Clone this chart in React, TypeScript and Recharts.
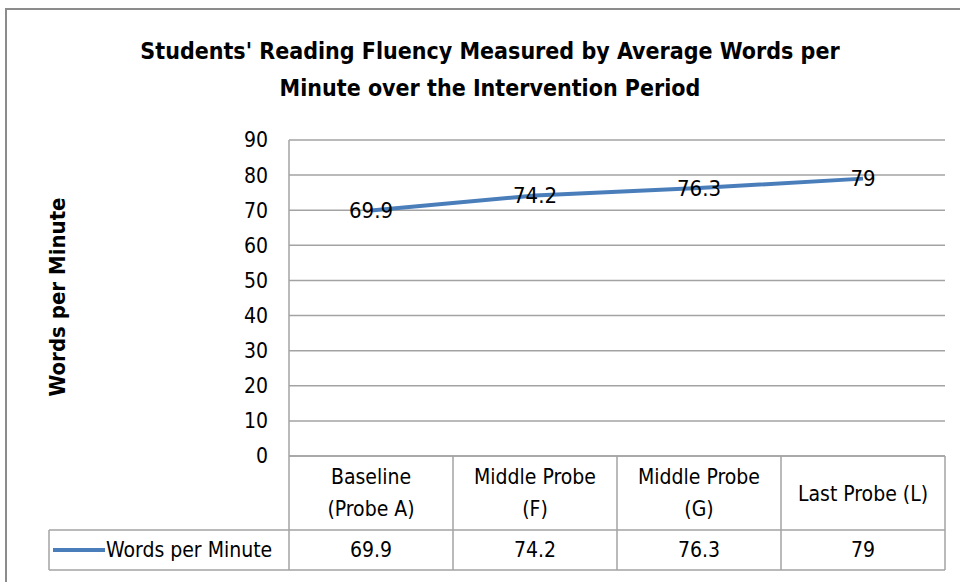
import { LineChart, Line, XAxis, YAxis, CartesianGrid, LabelList } from "recharts";

const categories = ["Baseline\n(Probe A)", "Middle Probe\n(F)", "Middle Probe\n(G)", "Last Probe (L)"];
const wordsPerMinute = [69.9, 74.2, 76.3, 79];
const yTicks = [0, 10, 20, 30, 40, 50, 60, 70, 80, 90];

const seriesName = "Words per Minute";
const data = categories.map((c, i) => ({ cat: c, wpm: wordsPerMinute[i] }));

const FONT = "'DejaVu Sans Condensed', 'Liberation Sans Narrow', Arial, sans-serif";
const GRID = "#a3a3a3";
const BLUE = "#4a7ebb";
const FS = 21;

// half of a category cell, matches the XAxis padding
const HALF = 82;
const ROW1_BOTTOM = 530;
const ROW2_BOTTOM = 570;
const LEGEND_LEFT = 49;
const PLOT_BOTTOM = 456;

function TableTick(props: any) {
    const { x, payload, index } = props;
    const lines = String(payload.value).split("\n");
    const top = PLOT_BOTTOM;
    const left = x - HALF;
    const right = x + HALF;
    return (
        <g>
            <line x1={right} y1={top} x2={right} y2={ROW2_BOTTOM} stroke={GRID} strokeWidth={1.5} />
            {index === 0 && (
                <>
                    <line x1={left} y1={top} x2={left} y2={ROW2_BOTTOM} stroke={GRID} strokeWidth={1.5} />
                    <line x1={LEGEND_LEFT} y1={ROW1_BOTTOM} x2={left} y2={ROW1_BOTTOM} stroke={GRID} strokeWidth={1.5} />
                    <line x1={LEGEND_LEFT} y1={ROW2_BOTTOM} x2={left} y2={ROW2_BOTTOM} stroke={GRID} strokeWidth={1.5} />
                    <line x1={LEGEND_LEFT} y1={ROW1_BOTTOM} x2={LEGEND_LEFT} y2={ROW2_BOTTOM} stroke={GRID} strokeWidth={1.5} />
                    <line x1={LEGEND_LEFT + 4} y1={550} x2={LEGEND_LEFT + 56} y2={550} stroke={BLUE} strokeWidth={4} />
                    <text x={LEGEND_LEFT + 57} y={550} dy="0.35em" fontSize={FS} fontFamily={FONT} fill="#000">
                        {seriesName}
                    </text>
                </>
            )}
            <line x1={left} y1={ROW1_BOTTOM} x2={right} y2={ROW1_BOTTOM} stroke={GRID} strokeWidth={1.5} />
            <line x1={left} y1={ROW2_BOTTOM} x2={right} y2={ROW2_BOTTOM} stroke={GRID} strokeWidth={1.5} />
            {lines.length === 1 ? (
                <text x={x} y={494} dy="0.35em" textAnchor="middle" fontSize={FS} fontFamily={FONT} fill="#000">
                    {lines[0]}
                </text>
            ) : (
                lines.map((l, i) => (
                    <text key={i} x={x} y={477 + i * 32} dy="0.35em" textAnchor="middle" fontSize={FS} fontFamily={FONT} fill="#000">
                        {l}
                    </text>
                ))
            )}
            <text x={x} y={550} dy="0.35em" textAnchor="middle" fontSize={FS} fontFamily={FONT} fill="#000">
                {wordsPerMinute[index]}
            </text>
        </g>
    );
}

function PointLabel(props: any) {
    const { x, y, value } = props;
    return (
        <text x={x} y={y} dy="0.35em" textAnchor="middle" fontSize={22} fontFamily={FONT} fill="#000">
            {value}
        </text>
    );
}

export default function App() {
    return (
        <div style={{ position: "absolute", left: 0, top: 0, width: 960, height: 582, background: "#fff" }}>
            <div
                style={{
                    position: "absolute",
                    left: 5,
                    top: 8,
                    right: 0,
                    bottom: 0,
                    borderLeft: "2px solid #8c8c8c",
                    borderTop: "2px solid #8c8c8c",
                }}
            />
            <div
                style={{
                    position: "absolute",
                    left: 0,
                    top: 33,
                    width: 980,
                    textAlign: "center",
                    fontFamily: FONT,
                    fontWeight: "bold",
                    fontSize: 23,
                    lineHeight: "37px",
                    color: "#000",
                }}
            >
                Students' Reading Fluency Measured by Average Words per
                <br />
                Minute over the Intervention Period
            </div>
            <div
                style={{
                    position: "absolute",
                    left: 57,
                    top: 297,
                    transform: "translate(-50%, -50%) rotate(-90deg)",
                    whiteSpace: "nowrap",
                    fontFamily: FONT,
                    fontWeight: "bold",
                    fontSize: 22,
                    color: "#000",
                }}
            >
                {seriesName}
            </div>
            <LineChart
                width={960}
                height={582}
                data={data}
                margin={{ top: 140, right: 15, left: 229, bottom: 96 }}
                style={{ position: "absolute", left: 0, top: 0 }}
            >
                <CartesianGrid vertical={false} stroke={GRID} strokeWidth={1.5} />
                <XAxis
                    dataKey="cat"
                    padding={{ left: HALF, right: HALF }}
                    axisLine={{ stroke: GRID, strokeWidth: 1.5 }}
                    tickLine={false}
                    interval={0}
                    tick={(p: any) => <TableTick {...p} />}
                    height={30}
                />
                <YAxis
                    domain={[0, 90]}
                    ticks={yTicks}
                    width={60}
                    axisLine={{ stroke: GRID, strokeWidth: 1.5 }}
                    tickLine={false}
                    tickMargin={15}
                    tick={{ fontSize: 21, fontFamily: FONT, fill: "#000" }}
                />
                <Line
                    dataKey="wpm"
                    stroke={BLUE}
                    strokeWidth={4}
                    dot={false}
                    isAnimationActive={false}
                >
                    <LabelList dataKey="wpm" content={(p: any) => <PointLabel {...p} />} />
                </Line>
            </LineChart>
        </div>
    );
}
